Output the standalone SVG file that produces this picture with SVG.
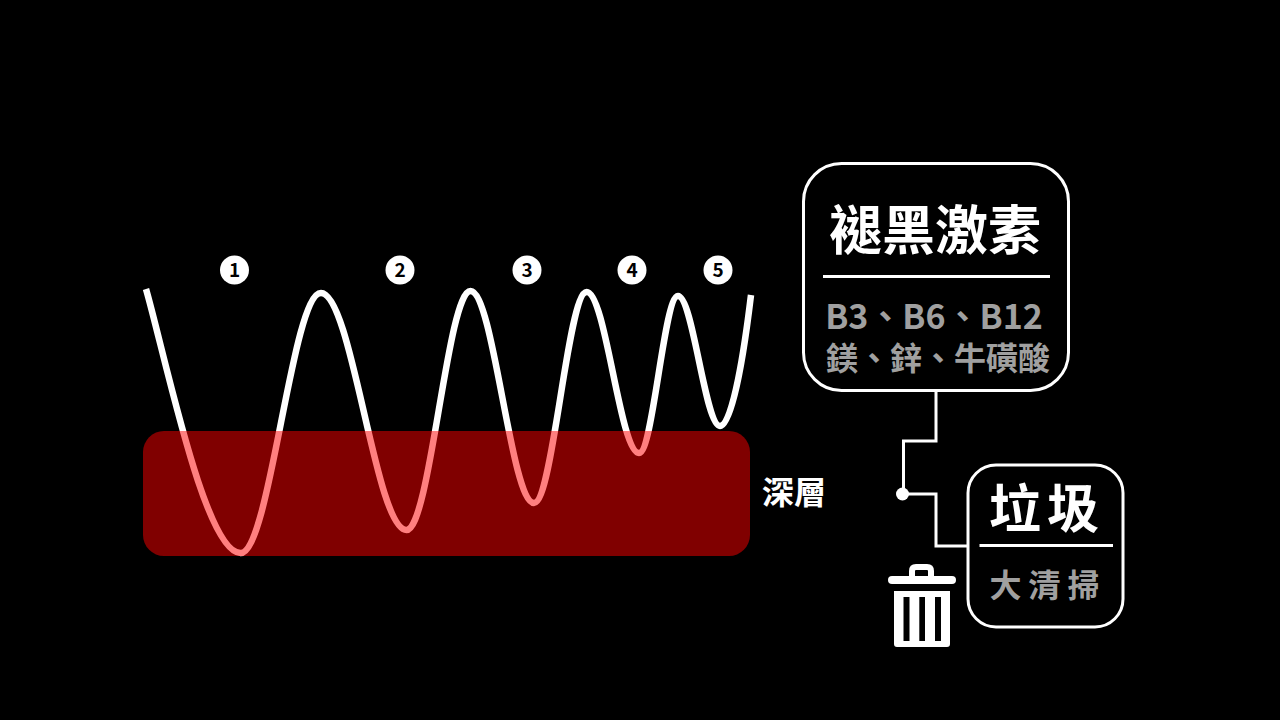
<svg xmlns="http://www.w3.org/2000/svg" width="1280" height="720" viewBox="0 0 1280 720">
<style>
text{font-family:"Noto Sans CJK TC","Noto Sans CJK SC",sans-serif;font-weight:700}
.w{fill:#fff}.g{fill:#a0a0a0}
.n{font-size:19px;font-weight:700;fill:#000;text-anchor:middle;font-family:"Noto Sans CJK TC",sans-serif}
.box{fill:#000;stroke:#fff;stroke-width:3}
.ln{fill:none;stroke:#fff;stroke-width:3}
</style>
<rect width="1280" height="720" fill="#000"/>
<g id="wave"><path d="M146 289C165 355 205 553 240.500 553C270 553 292 293 321 293C352 293 375.500 530 406.500 530C430 530 447.500 291 470.500 291C493.500 291 511 503 534 503C553 503 567.700 292 586.700 292C605.700 292 620 453 639 453C653 453 664 296 678 296C693 296 705 426 720 426C733 426 745 345 751 295" fill="none" stroke="#fff" stroke-width="6.500"/></g>
<g id="deep-band"><rect x="143" y="431" width="607" height="125" rx="21" fill="#f00" fill-opacity=".5"/><text class="w" x="762" y="504" font-size="32">深層</text></g>
<g id="cycle-1"><circle cx="234.500" cy="270" r="14.500" fill="#fff"/><text class="n" x="234.500" y="277">1</text></g>
<g id="cycle-2"><circle cx="400" cy="270" r="14.500" fill="#fff"/><text class="n" x="400" y="277">2</text></g>
<g id="cycle-3"><circle cx="527" cy="270" r="14.500" fill="#fff"/><text class="n" x="527" y="277">3</text></g>
<g id="cycle-4"><circle cx="632" cy="270" r="14.500" fill="#fff"/><text class="n" x="632" y="277">4</text></g>
<g id="cycle-5"><circle cx="718" cy="270" r="14.500" fill="#fff"/><text class="n" x="718" y="277">5</text></g>
<g id="connectors"><path class="ln" d="M936 391V441H903.500V494H936V546H968"/><circle cx="902.500" cy="494" r="6.500" fill="#fff"/></g>
<g id="melatonin"><rect class="box" x="803.500" y="163.500" width="265" height="227" rx="38"/><path class="ln" d="M823 276.500H1050"/>
<text class="w" x="935" y="250" font-size="53" text-anchor="middle">褪黑激素</text>
<text class="g" x="934" y="329" font-size="34" text-anchor="middle">B3、B6、B12</text>
<text class="g" x="938" y="370" font-size="32" text-anchor="middle">鎂、鋅、牛磺酸</text></g>
<g id="garbage"><rect class="box" x="968" y="465" width="155" height="162" rx="28"/><path class="ln" d="M979.500 545.500H1113"/>
<text class="w" x="1047" y="528" font-size="52" text-anchor="middle" letter-spacing="6">垃圾</text>
<text class="g" x="1048" y="597" font-size="32" text-anchor="middle" letter-spacing="7">大清掃</text></g>
<g id="trash"><path d="M912 577V571Q912 567 916 567H927Q931 567 931 571V577" fill="none" stroke="#fff" stroke-width="6"/><rect x="888" y="576" width="68" height="8" rx="4" fill="#fff"/><path fill="#fff" fill-rule="evenodd" d="M894 591H950V644Q950 647 947 647H897Q894 647 894 644ZM903.500 597V641H909.500V597ZM919.300 597V641H925V597ZM935 597V641H941V597Z"/></g>
</svg>
